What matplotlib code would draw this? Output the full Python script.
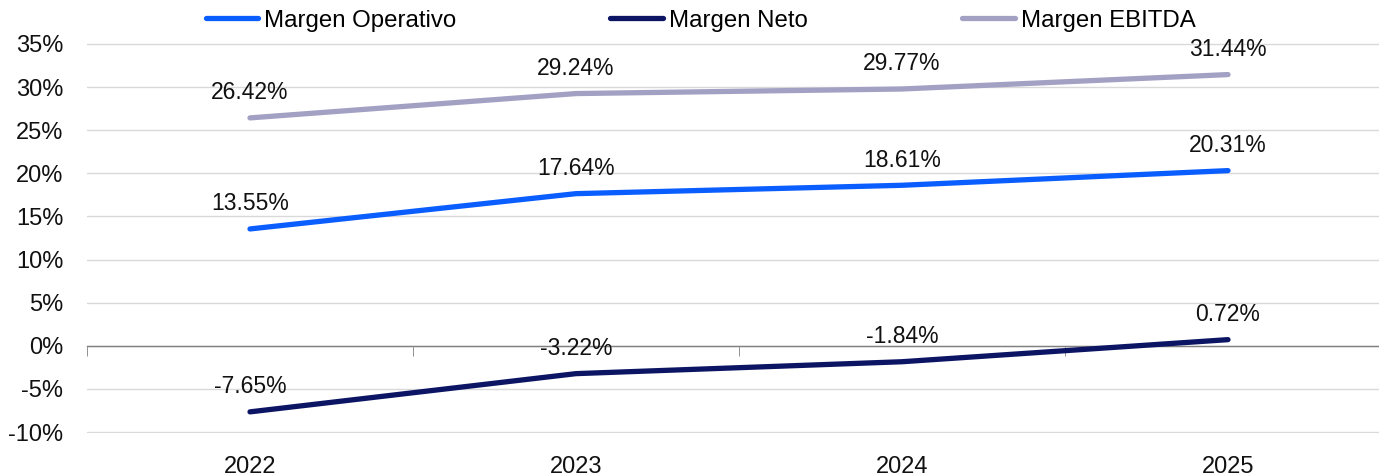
import matplotlib.pyplot as plt
from matplotlib.ticker import FuncFormatter, FixedLocator

years = ["2022", "2023", "2024", "2025"]
margen_operativo = [13.55, 17.64, 18.61, 20.31]
margen_neto = [-7.65, -3.22, -1.84, 0.72]
margen_ebitda = [26.42, 29.24, 29.77, 31.44]

plt.rcParams['font.family'] = ['Liberation Sans', 'DejaVu Sans']

fig = plt.figure(figsize=(13.79, 4.76), dpi=100)
ax = fig.add_axes([87 / 1379, 43 / 476, 1304 / 1379, 390 / 476])

x = list(range(len(years)))
series = [
    ("Margen Operativo", margen_operativo, "#0a5eff"),
    ("Margen Neto", margen_neto, "#0c1563"),
    ("Margen EBITDA", margen_ebitda, "#a2a1c4"),
]
for name, vals, color in series:
    ax.plot(x, vals, color=color, lw=3.8, solid_capstyle="round", label=name, zorder=3)
    for xi, v in zip(x, vals):
        ax.annotate(f"{v:.2f}%", (xi, v), xytext=(0, 18), textcoords="offset points",
                    ha="center", va="center", fontsize=16.5, color="#111111")

ax.set_xlim(-0.5, 3.5)
ax.set_ylim(-10.1, 35.1)
ax.set_yticks(range(-10, 36, 5))
ax.yaxis.set_major_formatter(FuncFormatter(lambda v, p: f"{v:.0f}%"))
ax.grid(axis="y", color="#d9d9d9", lw=1)
ax.set_axisbelow(True)

for s in ["top", "right", "left"]:
    ax.spines[s].set_visible(False)
ax.spines["bottom"].set_position(("data", 0))
ax.spines["bottom"].set_color("#808080")
ax.spines["bottom"].set_linewidth(1)

ax.set_xticks(x)
ax.set_xticklabels(years)
ax.xaxis.set_minor_locator(FixedLocator([-0.5, 0.5, 1.5, 2.5, 3.5]))
ax.tick_params(axis="x", which="major", length=0, pad=79, labelsize=17, colors="#111111")
ax.tick_params(axis="x", which="minor", length=7, color="#808080", direction="out")
ax.tick_params(axis="y", length=0, pad=17, labelsize=17, colors="#111111")

fig.legend(loc="upper center", bbox_to_anchor=(0.508, 1.025), ncol=3, frameon=False,
           fontsize=17.3, handlelength=2.2, handletextpad=0.25, columnspacing=6.4)

fig.savefig("out.png", dpi=100)
